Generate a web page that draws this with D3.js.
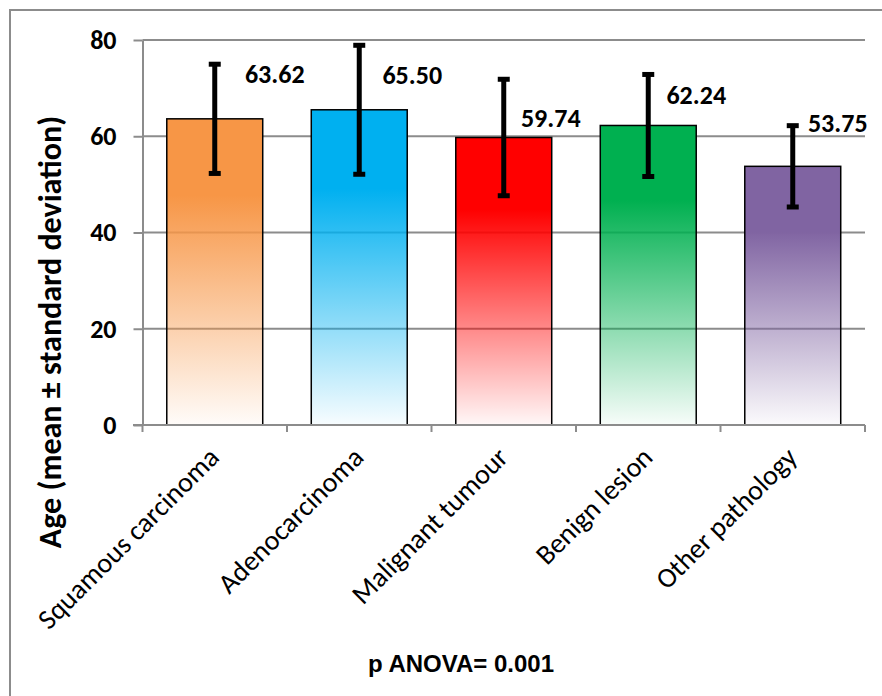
<!DOCTYPE html>
<html>
<head>
<meta charset="utf-8">
<script src="https://cdn.jsdelivr.net/npm/d3@7"></script>
<style>
  html, body { margin: 0; padding: 0; background: #fff; }
  svg { display: block; }
</style>
</head>
<body>
<div id="chart"></div>
<script>
// data
const categories = ["Squamous carcinoma", "Adenocarcinoma", "Malignant tumour", "Benign lesion", "Other pathology"];
const means = [63.62, 65.50, 59.74, 62.24, 53.75];
const sds = [11.35, 13.4, 12.1, 10.6, 8.45];
const yTicks = [0, 20, 40, 60, 80];
const colors = ["#F79646", "#00B0F0", "#FF0000", "#00B050", "#8064A2"];

const width = 882, height = 696;
const font = "Carlito, Calibri, Lato, sans-serif";
const gridColor = "#8c8c8c";

// hand-placed value labels in the original, pixel nudges from bar centre / baseline y
const labelNudge = [[60, 83], [53, 84], [47, 127], [48, 104], [45, 132]];

const svg = d3.select("#chart").append("svg")
    .attr("width", width)
    .attr("height", height);

// gradients, solid at top fading to white at the base
const defs = svg.append("defs");
colors.forEach((c, i) => {
    const g = defs.append("linearGradient")
        .attr("id", `grad-${i}`)
        .attr("x1", 0).attr("y1", 0).attr("x2", 0).attr("y2", 1);
    g.append("stop").attr("offset", "0").attr("stop-color", c);
    g.append("stop").attr("offset", "0.25").attr("stop-color", c);
    g.append("stop").attr("offset", "1").attr("stop-color", c).attr("stop-opacity", 0.03);
});

// outer frame
svg.append("rect")
    .attr("x", 10).attr("y", 10)
    .attr("width", 900).attr("height", 720)
    .attr("fill", "none")
    .attr("stroke", gridColor)
    .attr("stroke-width", 2);

const plotLeft = 142.5, plotRight = 865, plotTop = 40, plotBottom = 425;

const x = d3.scaleBand()
    .domain(categories)
    .range([plotLeft, plotRight])
    .paddingInner(0.336)
    .paddingOuter(0.168);

const y = d3.scaleLinear()
    .domain([0, 80])
    .range([plotBottom, plotTop]);

// gridlines
svg.append("g")
    .selectAll("line")
    .data(yTicks.filter(d => d > 0))
    .join("line")
    .attr("x1", plotLeft).attr("x2", plotRight)
    .attr("y1", d => y(d)).attr("y2", d => y(d))
    .attr("stroke", gridColor)
    .attr("stroke-width", 2);

// y axis
const yAxis = svg.append("g")
    .attr("transform", `translate(${plotLeft},0)`)
    .call(d3.axisLeft(y).tickValues(yTicks).tickSize(9).tickSizeOuter(0).tickPadding(17));
yAxis.select(".domain").attr("stroke", gridColor).attr("stroke-width", 2);
yAxis.selectAll(".tick line").attr("stroke", gridColor).attr("stroke-width", 2);
yAxis.selectAll(".tick text")
    .attr("font-family", font)
    .attr("font-weight", "bold")
    .attr("font-size", 26)
    .attr("fill", "#000");

// bars
svg.append("g")
    .selectAll("rect")
    .data(categories)
    .join("rect")
    .attr("x", d => x(d))
    .attr("width", x.bandwidth())
    .attr("y", (d, i) => y(means[i]))
    .attr("height", (d, i) => y(0) - y(means[i]))
    .attr("fill", (d, i) => `url(#grad-${i})`)
    .attr("stroke", "#000")
    .attr("stroke-width", 1.5);

// x axis line and category boundary ticks
svg.append("line")
    .attr("x1", 133).attr("x2", plotRight)
    .attr("y1", plotBottom).attr("y2", plotBottom)
    .attr("stroke", gridColor)
    .attr("stroke-width", 2);
svg.append("g")
    .selectAll("line")
    .data(d3.range(categories.length + 1))
    .join("line")
    .attr("x1", i => plotLeft + i * x.step())
    .attr("x2", i => plotLeft + i * x.step())
    .attr("y1", plotBottom).attr("y2", plotBottom + 7)
    .attr("stroke", gridColor)
    .attr("stroke-width", 2);

// error bars
const err = svg.append("g").attr("stroke", "#000");
categories.forEach((c, i) => {
    const cx = x(c) + x.bandwidth() / 2;
    const hi = y(means[i] + sds[i]), lo = y(means[i] - sds[i]);
    err.append("line")
        .attr("x1", cx).attr("x2", cx)
        .attr("y1", hi).attr("y2", lo)
        .attr("stroke-width", 5);
    [hi, lo].forEach(v => {
        err.append("line")
            .attr("x1", cx - 6).attr("x2", cx + 6)
            .attr("y1", v).attr("y2", v)
            .attr("stroke-width", 5);
    });
});

// value labels
svg.append("g")
    .selectAll("text")
    .data(categories)
    .join("text")
    .attr("x", (d, i) => x(d) + x.bandwidth() / 2 + labelNudge[i][0])
    .attr("y", (d, i) => labelNudge[i][1])
    .attr("text-anchor", "middle")
    .attr("font-family", font)
    .attr("font-weight", "bold")
    .attr("font-size", 26)
    .text((d, i) => means[i].toFixed(2));

// category labels, rotated
svg.append("g")
    .selectAll("text")
    .data(categories)
    .join("text")
    .attr("transform", d => `translate(${x(d) + x.bandwidth() / 2 + 6},${plotBottom + 34}) rotate(-45)`)
    .attr("text-anchor", "end")
    .attr("font-family", font)
    .attr("font-size", 28)
    .text(d => d);

// y axis title
svg.append("text")
    .attr("transform", "translate(61,332) rotate(-90)")
    .attr("text-anchor", "middle")
    .attr("font-family", font)
    .attr("font-weight", "bold")
    .attr("font-size", 32)
    .text("Age (mean ± standard deviation)");

// footnote
svg.append("text")
    .attr("x", 461)
    .attr("y", 672)
    .attr("text-anchor", "middle")
    .attr("font-family", "'Liberation Sans', Arial, sans-serif")
    .attr("font-weight", "bold")
    .attr("font-size", 24)
    .text("p ANOVA= 0.001");
</script>
</body>
</html>
